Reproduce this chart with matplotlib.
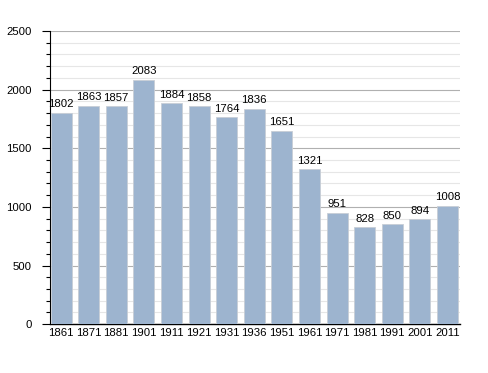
import matplotlib.pyplot as plt
from matplotlib.ticker import MultipleLocator

# population by census year
years = ["1861", "1871", "1881", "1901", "1911", "1921", "1931", "1936",
         "1951", "1961", "1971", "1981", "1991", "2001", "2011"]
population = [1802, 1863, 1857, 2083, 1884, 1858, 1764, 1836,
              1651, 1321, 951, 828, 850, 894, 1008]

plt.rcParams['font.family'] = ['Liberation Sans', 'DejaVu Sans']

fig = plt.figure(figsize=(4.88, 3.73), dpi=100)
ax = fig.add_axes([0.1025, 0.131, 0.840, 0.786])

x = range(len(years))
ax.bar(x, population, width=0.76, color="#9db4cf",
       edgecolor="#c8ced6", linewidth=0.6, zorder=3)

for xi, v in zip(x, population):
    ax.text(xi, v + 30, str(v), ha="center", va="bottom", fontsize=8.2, zorder=4)

ax.set_xlim(-0.4, 14.45)
ax.set_ylim(0, 2500)
ax.set_xticks(list(x))
ax.set_xticklabels(years, fontsize=8.2)
ax.tick_params(axis="x", length=0, pad=3)

ax.yaxis.set_major_locator(MultipleLocator(500))
ax.yaxis.set_minor_locator(MultipleLocator(100))
ax.tick_params(axis="y", which="major", length=6, width=0.8, labelsize=8.2, pad=7)
ax.tick_params(axis="y", which="minor", length=3, width=0.8)
ax.grid(axis="y", which="major", color="#b0b0b0", linewidth=0.8, zorder=0)
ax.grid(axis="y", which="minor", color="#e6e6e6", linewidth=0.8, zorder=0)

for s in ["top", "right"]:
    ax.spines[s].set_visible(False)
ax.spines["left"].set_linewidth(0.8)
ax.spines["bottom"].set_linewidth(1.0)

fig.savefig("out.png", dpi=100)
